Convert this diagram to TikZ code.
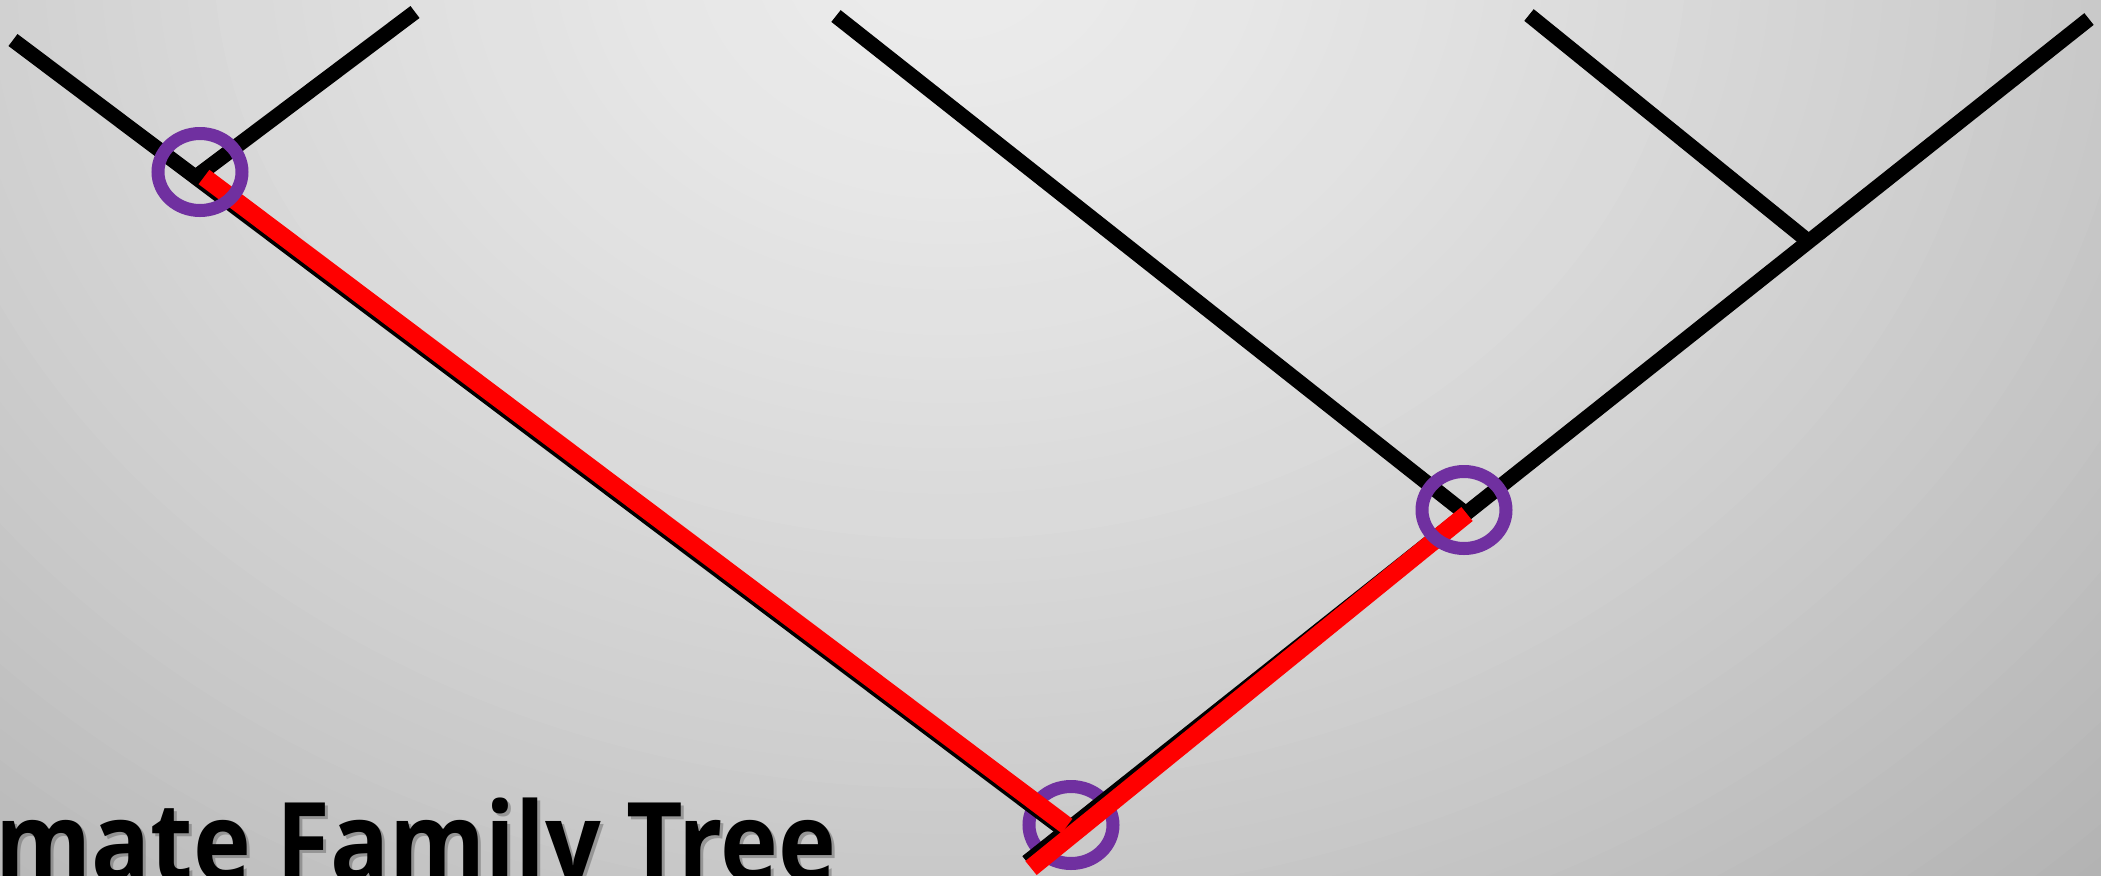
\documentclass[tikz,border=0pt]{standalone}
\usepackage{fontspec}
\setmainfont{Open Sans}
\newfontfamily\titlefont{Open Sans}[FakeStretch=0.89]
\definecolor{ringpurple}{HTML}{7030A0}
\definecolor{bgOuter}{HTML}{B0B0B0}
\begin{document}
\begin{tikzpicture}[x=0.5pt,y=-0.5pt,
  blk/.style={line width=7.5pt, draw=black},
  redl/.style={line width=9pt, draw=red},
  ring/.style={line width=6.5pt, draw=ringpurple},
  titletext/.style={anchor=base west, inner sep=0pt, font=\titlefont\bfseries\fontsize{55pt}{58pt}\selectfont}
]
\useasboundingbox (0,0) rectangle (2101,875);
\begin{scope}
\clip (0,0) rectangle (2101,875);
\fill[bgOuter] (0,0) rectangle (2101,875);
% radial background built from concentric ellipses
\foreach \i in {0,...,59} {
  \pgfmathsetmacro\f{1-\i/60}
  \pgfmathsetmacro\gv{(236-60*pow(\f,1.4))/255}
  \definecolor{bgtmp}{gray}{\gv}
  \fill[bgtmp] (950,-50) ellipse [x radius=1700*\f, y radius=1360*\f];
}

% coordinates
\coordinate (L1) at (13,40);
\coordinate (L2) at (415,12);
\coordinate (L3) at (836,16);
\coordinate (L4) at (1529,15);
\coordinate (L5) at (2089,19);
\coordinate (A) at (197,176);
\coordinate (B) at (1465,513);
\coordinate (C) at (1808,241);
\coordinate (R1) at (1064,830);
\coordinate (R2) at (1027,862);
\coordinate (RA) at (204,177);
\coordinate (RB1) at (1067,826);
\coordinate (RB) at (1467,514);
\coordinate (RC) at (1031,868);
\coordinate (cA) at (200,172);
\coordinate (cB) at (1464,510);
\coordinate (cR) at (1071,825);

% title with shadow
\node[titletext, text=black!60, opacity=0.5] (titleshadow) at (-2,884) {mate Family Tree};
\node[titletext, text=black] (title) at (-5,881) {mate Family Tree};

% root ring (below the lines)
\draw[ring] (cR) ellipse [x radius=42, y radius=38.5];

% black branches
\draw[blk] (L1) -- (R1);
\draw[blk] (L2) -- (A);
\draw[blk] (L3) -- (B);
\draw[blk] (L4) -- (C);
\draw[blk] (L5) -- (R2);

% red path
\draw[redl] (RA) -- (RB1);
\draw[redl] (RB) -- (RC);

% rings on top
\draw[ring] (cA) ellipse [x radius=42, y radius=38.5];
\draw[ring] (cB) ellipse [x radius=42, y radius=38.5];
\end{scope}
\end{tikzpicture}
\end{document}
